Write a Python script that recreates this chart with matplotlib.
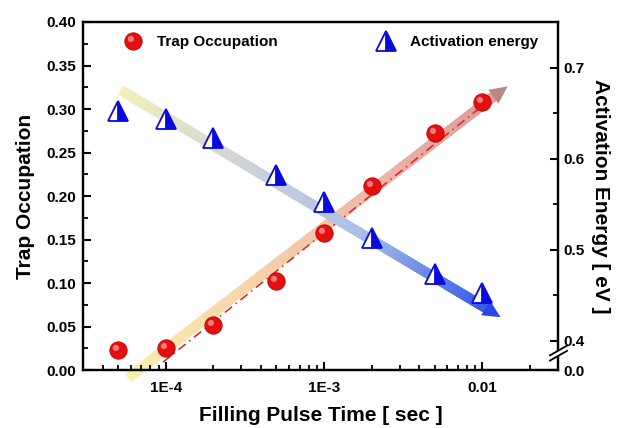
import numpy as np
import matplotlib
matplotlib.use('Agg')
import matplotlib.pyplot as plt
from matplotlib.collections import LineCollection
from matplotlib.colors import LinearSegmentedColormap
from matplotlib.path import Path
from matplotlib.legend_handler import HandlerTuple

plt.rcParams['font.family'] = ['Liberation Sans', 'DejaVu Sans']
plt.rcParams['font.weight'] = 'bold'

# data
pulse_time = [5e-5, 1e-4, 2e-4, 5e-4, 1e-3, 2e-3, 5e-3, 1e-2]
trap_occ = [0.023, 0.025, 0.052, 0.102, 0.158, 0.212, 0.272, 0.308]
act_energy = [0.652, 0.643, 0.623, 0.582, 0.552, 0.513, 0.473, 0.453]

# guide arrows (start, shaft end, tip)
trap_arrow_x = [6.1e-5, 0.0118, 0.0144]
trap_arrow_y = [-0.006, 0.3145, 0.326]
trap_fit_x = [9.6e-5, 0.0102]
trap_fit_y = [0.009, 0.305]
act_arrow_x = [5.5e-5, 0.0105, 0.013]
act_arrow_y = [0.6725, 0.436, 0.426]

x_ticks = [1e-4, 1e-3, 1e-2]
x_labels = ['1E-4', '1E-3', '0.01']
left_ticks = np.arange(0, 0.401, 0.05)
right_ticks = [0.368, 0.4, 0.5, 0.6, 0.7]
right_labels = ['0.0', '0.4', '0.5', '0.6', '0.7']


def band(ax, xs, ys, colors, head_color, lw=7, clip=True):
    t = np.linspace(0, 1, 300)
    lx = np.log10(xs[0]) + t * (np.log10(xs[1]) - np.log10(xs[0]))
    px = 10 ** lx
    py = ys[0] + t * (ys[1] - ys[0])
    pts = np.column_stack([px, py])
    segs = np.stack([pts[:-1], pts[1:]], axis=1)
    cmap = LinearSegmentedColormap.from_list('band', colors)
    lc = LineCollection(segs, colors=cmap(t[:-1]), linewidths=lw,
                        capstyle='projecting', zorder=1)
    lc.set_clip_on(clip)
    ax.add_collection(lc)
    ax.annotate('', xy=(xs[2], ys[2]), xytext=(xs[1], ys[1]),
                arrowprops=dict(arrowstyle='-|>,head_length=0.45,head_width=0.22',
                                mutation_scale=28, color=head_color, lw=0,
                                shrinkA=0, shrinkB=0), zorder=1)


# highlight marker for the shaded spheres
circ = Path.circle(center=(-0.3, 0.3), radius=0.36)
hl_verts = np.vstack([[[-1, -1], [1, 1]], circ.vertices])
hl_codes = [Path.MOVETO, Path.MOVETO] + list(circ.codes)
highlight = Path(hl_verts, hl_codes)

fig = plt.figure(figsize=(6.23, 4.28), dpi=100)
ax = fig.add_axes([0.1332, 0.1355, 0.7625, 0.8131])
ax2 = ax.twinx()

ax.set_xscale('log')
ax.set_xlim(3e-5, 0.03)
ax.set_ylim(0, 0.40)
ax2.set_ylim(0.368, 0.75)

band(ax, trap_arrow_x, trap_arrow_y,
     ['#f7f0b0', '#f7d4a8', '#f0b8aa', '#dc9c9a'], '#b88686', clip=False)
ax.plot(trap_fit_x, trap_fit_y, color='#e02020', lw=1.1, ls=(0, (6, 3, 1, 3)), zorder=2)
band(ax2, act_arrow_x, act_arrow_y,
     ['#f3efb8', '#d0d4d8', '#a8c0e8', '#3a5ce8'], '#2a48e8')

base, = ax.plot(pulse_time, trap_occ, 'o', ms=12.5, color='#e41010',
                mec='#c00000', mew=0.6, ls='none', zorder=3)
shine, = ax.plot(pulse_time, trap_occ, marker=highlight, ms=12.5, color='#ff8c8c',
                 mew=0, ls='none', zorder=4, alpha=0.85)
tri, = ax2.plot(pulse_time, act_energy, '^', ms=14, fillstyle='right',
                mfc='#0a0ae0', mfcalt='white', mec='#0a0ae0', mew=1.3,
                ls='none', zorder=3)

# ticks
ax.set_xticks(x_ticks)
ax.set_xticklabels(x_labels)
ax.xaxis.set_minor_locator(matplotlib.ticker.LogLocator(base=10, subs=np.arange(2, 10)))
ax.xaxis.set_minor_formatter(matplotlib.ticker.NullFormatter())
ax.set_yticks(left_ticks)
ax.set_yticklabels(['%.2f' % v for v in left_ticks])
ax.yaxis.set_minor_locator(matplotlib.ticker.MultipleLocator(0.025))
ax2.set_yticks(right_ticks)
ax2.set_yticklabels(right_labels)
ax2.set_yticks([0.45, 0.55, 0.65], minor=True)

for a in (ax, ax2):
    a.tick_params(which='major', direction='in', length=6, width=1.5, labelsize=11)
    a.tick_params(which='minor', direction='in', length=3.5, width=1.3)
    for s in a.spines.values():
        s.set_linewidth(1.6)
ax.tick_params(axis='x', which='both', top=False, pad=8)
ax.tick_params(axis='y', which='both', right=False, pad=5)
ax2.tick_params(axis='y', pad=4)

ax.set_xlabel('Filling Pulse Time [ sec ]', fontsize=15, fontweight='bold', labelpad=8)
ax.set_ylabel('Trap Occupation', fontsize=15, fontweight='bold', labelpad=8)
ax2.set_ylabel('Activation Energy [ eV ]', fontsize=15, fontweight='bold',
               rotation=270, labelpad=18)

# axis break on the right
brk = dict(transform=ax2.transAxes, clip_on=False, color='black', lw=1.3, zorder=10)
ax2.fill([0.983, 1.019, 1.019, 0.983], [0.030, 0.058, 0.070, 0.042],
         color='white', transform=ax2.transAxes, clip_on=False, zorder=9)
ax2.plot([0.983, 1.019], [0.042, 0.070], **brk)
ax2.plot([0.983, 1.019], [0.027, 0.055], **brk)

# legends
leg1 = ax2.legend([(base, shine)], ['Trap Occupation'],
                  handler_map={tuple: HandlerTuple(ndivide=1, pad=0)},
                  loc='center left', bbox_to_anchor=(0.081, 0.9425), frameon=False,
                  borderpad=0, borderaxespad=0, handlelength=1.5, handletextpad=0.8,
                  prop={'size': 11, 'weight': 'bold'})
ax2.add_artist(leg1)
ax2.legend([tri], ['Activation energy'], loc='center left', bbox_to_anchor=(0.614, 0.9425),
           frameon=False, borderpad=0, borderaxespad=0, handlelength=1.5, handletextpad=0.8,
           prop={'size': 11, 'weight': 'bold'})

fig.savefig('out.png', dpi=100)
